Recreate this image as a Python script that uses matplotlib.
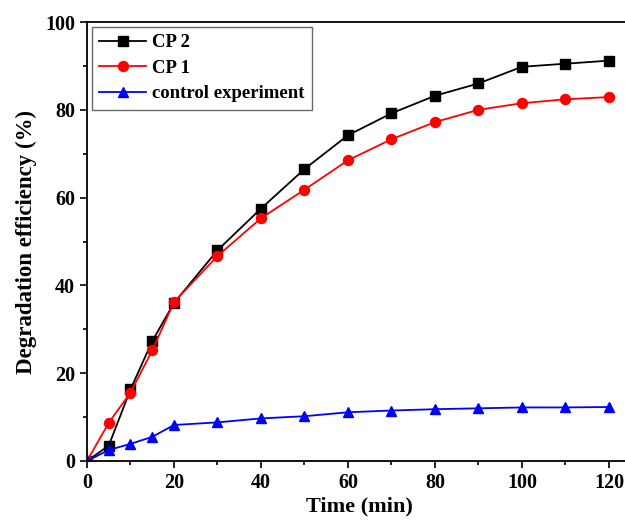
import numpy as np
import matplotlib.pyplot as plt
from matplotlib.ticker import MultipleLocator

plt.rcParams['font.family'] = ['Liberation Serif', 'DejaVu Serif']
plt.rcParams['font.weight'] = 'bold'

time_min = [0, 5, 10, 15, 20, 30, 40, 50, 60, 70, 80, 90, 100, 110, 120]
cp2 = [0, 3.5, 16.3, 27.3, 36.0, 48.0, 57.5, 66.5, 74.2, 79.2, 83.2, 86.0, 89.8, 90.5, 91.2]
cp1 = [0, 8.7, 15.6, 25.2, 36.2, 46.7, 55.3, 61.8, 68.5, 73.3, 77.2, 80.0, 81.5, 82.4, 82.9]
control = [0, 2.5, 3.9, 5.5, 8.2, 8.8, 9.7, 10.2, 11.1, 11.5, 11.8, 12.0, 12.2, 12.2, 12.3]

fig = plt.figure(figsize=(6.25, 5.24), dpi=100)
ax = fig.add_axes([87/625, 63/524, 545/625, 439/524])

ax.plot(time_min, cp2, color='black', marker='s', markersize=6.5, lw=1.3, label='CP 2')
ax.plot(time_min, cp1, color='red', marker='o', markersize=7.2, lw=1.3, label='CP 1')
ax.plot(time_min, control, color='blue', marker='^', markersize=7.5, lw=1.3, label='control experiment')

ax.set_xlim(0, 125.3)
ax.set_ylim(0, 100)
ax.xaxis.set_major_locator(MultipleLocator(20))
ax.xaxis.set_minor_locator(MultipleLocator(10))
ax.yaxis.set_major_locator(MultipleLocator(20))
ax.yaxis.set_minor_locator(MultipleLocator(10))
ax.tick_params(which='major', direction='out', length=5, width=1.2, labelsize=14.5)
ax.tick_params(which='minor', direction='out', length=3, width=1.2)
for s in ax.spines.values():
    s.set_linewidth(1.3)
ax.spines['right'].set_visible(False)

ax.set_xlabel('Time (min)', fontsize=16, fontweight='bold', labelpad=3)
ax.set_ylabel('Degradation efficiency (%)', fontsize=16.5, fontweight='bold', labelpad=6)

leg = ax.legend(loc='upper left', fontsize=13.5, fancybox=False, edgecolor='#444444',
                handlelength=2.5, borderaxespad=0.25, labelspacing=0.45, handletextpad=0.3,
                borderpad=0.4)
leg.get_frame().set_linewidth(1.0)
for t in leg.get_texts():
    t.set_fontweight('bold')

fig.savefig('out.png', dpi=100)
